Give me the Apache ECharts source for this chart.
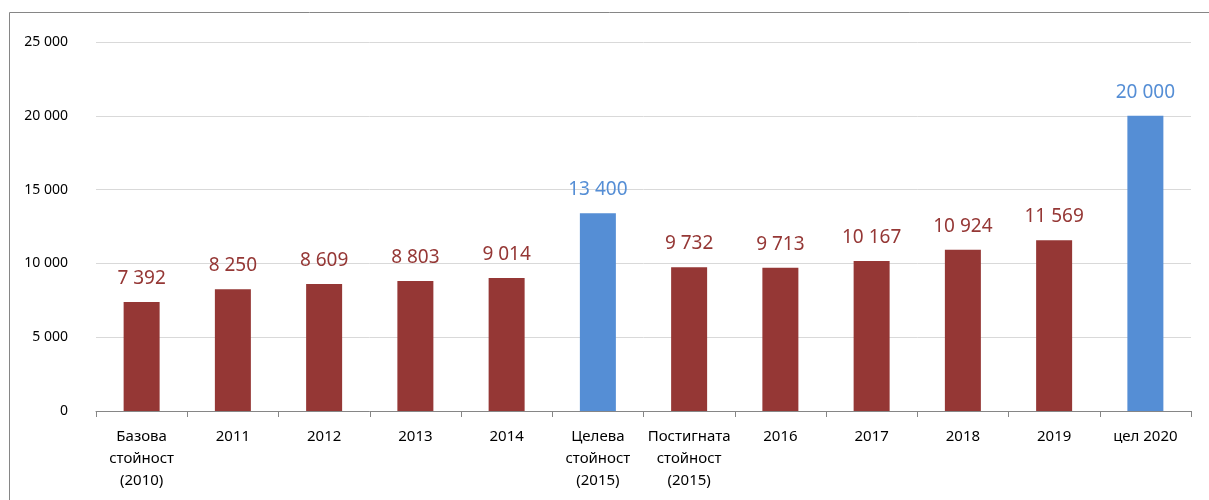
<!DOCTYPE html>
<html><head><meta charset="utf-8">
<script src="https://cdn.jsdelivr.net/npm/echarts@6/dist/echarts.min.js"></script>
<style>html,body{margin:0;padding:0;background:#fff}#c{width:1209px;height:500px}</style>
</head><body><div id="c"></div>
<script>
const categories = ['Базова\nстойност\n(2010)','2011','2012','2013','2014','Целева\nстойност\n(2015)','Постигната\nстойност\n(2015)','2016','2017','2018','2019','цел 2020'];
const values = [7392, 8250, 8609, 8803, 9014, 13400, 9732, 9713, 10167, 10924, 11569, 20000];
const isTarget = [false,false,false,false,false,true,false,false,false,false,false,true];
const yTicks = [0, 5000, 10000, 15000, 20000, 25000];
const RED = '#953735', BLUE = '#558ED5';
const fmt = v => String(v).replace(/\B(?=(\d{3})+(?!\d))/g, ' ');
const chart = echarts.init(document.getElementById('c'));
chart.setOption({
  animation: false,
  textStyle: {fontFamily: 'Noto Sans'},
  graphic: [{type:'rect', shape:{x:9.5,y:12.5,width:1300,height:600}, style:{fill:'none',stroke:'#868686',lineWidth:1}, silent:true}],
  grid: {left: 96, right: 18, top: 42, bottom: 89, containLabel: false},
  xAxis: {
    type: 'category', data: categories,
    axisLine: {lineStyle: {color: '#868686'}},
    axisTick: {show: true, alignWithLabel: false, length: 6, lineStyle: {color: '#868686'}},
    axisLabel: {color: '#000', fontSize: 15, lineHeight: 22, margin: 15, interval: 0}
  },
  yAxis: {
    type: 'value', min: yTicks[0], max: yTicks[yTicks.length-1], interval: 5000,
    axisLine: {show: false}, axisTick: {show: false},
    splitLine: {lineStyle: {color: '#d9d9d9', width: 1}},
    axisLabel: {color: '#000', fontSize: 14, margin: 28, formatter: v => fmt(v)}
  },
  series: [{
    type: 'bar', barWidth: 36,
    data: values.map((v,i) => ({
      value: v,
      itemStyle: {color: isTarget[i] ? BLUE : RED},
      label: {color: isTarget[i] ? BLUE : RED}
    })),
    label: {show: true, position: 'top', distance: 14, fontSize: 19, formatter: p => fmt(p.value)}
  }]
});
</script></body></html>
